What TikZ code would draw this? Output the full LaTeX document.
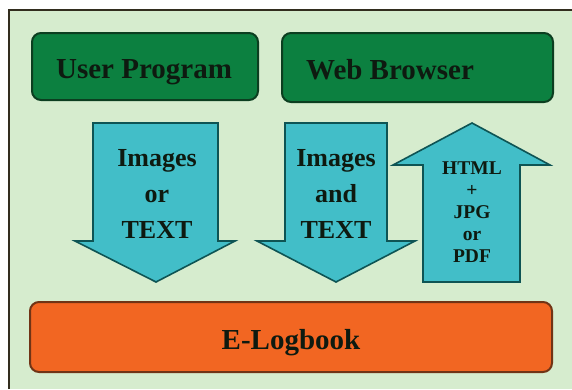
\documentclass[tikz,border=0pt]{standalone}
\usepackage{fontspec}
\setmainfont{Liberation Serif}
\usepackage{color}
\definecolor{mybg}{RGB}{214,236,206}
\definecolor{myframe}{RGB}{50,45,30}
\definecolor{mygreen}{RGB}{12,128,64}
\definecolor{mydkgreen}{RGB}{12,62,32}
\definecolor{myteal}{RGB}{66,190,200}
\definecolor{mydkteal}{RGB}{14,84,84}
\definecolor{myorange}{RGB}{242,102,34}
\definecolor{mybrown}{RGB}{112,52,22}
\definecolor{myink}{RGB}{14,26,16}
\usepackage{tikz}
\usetikzlibrary{positioning}

\begin{document}
\begin{tikzpicture}[
  x=1pt, y=-1pt,
  mybox/.style={
    draw,
    line width=2pt,
    rounded corners=9pt,
    inner sep=0pt
    },
  greenbox/.style={mybox, draw=mydkgreen, fill=mygreen},
  orangebox/.style={mybox, draw=mybrown, fill=myorange},
  myarrow/.style={draw=mydkteal, fill=myteal, line width=1.6pt, line join=miter},
  boxtext/.style={anchor=base, inner sep=0pt, text=myink, font=\fontsize{29}{32}\selectfont\bfseries},
  arrowtext/.style={align=center, inner sep=0pt, text=myink}
]
\useasboundingbox (0,0) rectangle (572,389);
\fill[white] (0,0) rectangle (572,389);
\fill[mybg] (9,10) rectangle (572,389);
\draw[myframe, line width=2pt] (9,389) -- (9,10) -- (572,10);

% top row
\node [greenbox, minimum width=226pt, minimum height=67pt] (user) at (145,66.5) {};
\node [greenbox, minimum width=271pt, minimum height=69pt] (web) at (417.5,67.5) {};
\node [boxtext] (usertxt) at (144,78) {User Program};
\node [boxtext] (webtxt) at (390,79) {Web Browser};

% arrows
\draw [myarrow] (93,123) -- (218,123) -- (218,241) -- (235,241) -- (156,282)
  -- (75,241) -- (93,241) -- cycle;
\draw [myarrow] (285,123) -- (387,123) -- (387,241) -- (415,241) -- (336,282)
  -- (257,241) -- (285,241) -- cycle;
\draw [myarrow] (423,282) -- (520,282) -- (520,165) -- (550,165) -- (472,123)
  -- (393,165) -- (423,165) -- cycle;
\node [arrowtext, font=\fontsize{26}{36}\selectfont\bfseries] (imgor) at (157,194) {Images\\or\\TEXT};
\node [arrowtext, font=\fontsize{26}{36}\selectfont\bfseries] (imgand) at (336,194) {Images\\and\\TEXT};
\node [arrowtext, font=\fontsize{19.5}{22}\selectfont\bfseries] (html) at (472,212) {HTML\\+\\JPG\\or\\PDF};

% bottom row
\node [orangebox, minimum width=522pt, minimum height=70pt] (log) at (291,337) {};
\node [boxtext] (logtxt) at (291,349) {E-Logbook};

\end{tikzpicture}
\end{document}
